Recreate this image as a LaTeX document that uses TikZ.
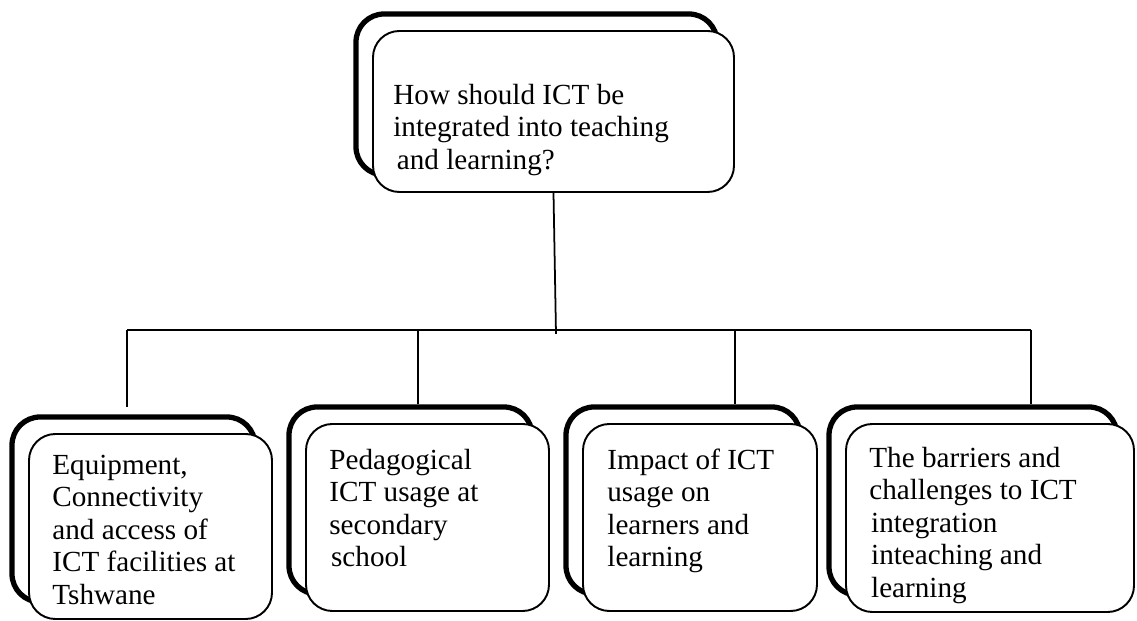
\documentclass[tikz,border=0pt]{standalone}
\usepackage{fontspec}
\setmainfont{Liberation Serif}
\usepackage{tikz}
\usetikzlibrary{positioning}
\tikzset{backbox/.style = {draw, line width = 3pt, rounded corners = 16pt, inner sep = 0}}
\tikzset{frontbox/.style = {draw, fill = white, line width = 1.1pt, rounded corners = 15pt, inner sep = 0}}
\tikzset{boxtext/.style = {anchor = base west, inner sep = 0, font = \fontsize{16.6}{18.5}\selectfont}}
\tikzset{link/.style = {line width = 1pt}}
\newcommand{\boxlines}[1]{\parbox[t]{6cm}{#1}}

\begin{document}
\begin{tikzpicture}
      \useasboundingbox (0, 0) rectangle (22.74, 12.42);

      % question box
      \node [backbox, minimum width = 7.22cm, minimum height = 3.22cm] (qback) at (10.73, 10.53) {};
      \node [frontbox, minimum width = 7.22cm, minimum height = 3.22cm] (q) at (11.07, 10.19) {};
      \node [boxtext] (qtext) at ([shift = {(0.42, -1.48)}] q.north west)
            {\boxlines{How should ICT be\\integrated into teaching\\\hspace*{2pt}and learning?}};

      % the four themes
      \node [backbox, minimum width = 4.86cm, minimum height = 3.70cm] (equipback) at (2.67, 2.23) {};
      \node [frontbox, minimum width = 4.86cm, minimum height = 3.70cm] (equip) at (3.01, 1.89) {};
      \node [boxtext] (equiptext) at ([shift = {(0.48, -0.82)}] equip.north west)
            {\boxlines{Equipment,\\Connectivity\\and access of\\ICT facilities at\\Tshwane}};

      \node [backbox, minimum width = 4.86cm, minimum height = 3.74cm] (pedback) at (8.21, 2.41) {};
      \node [frontbox, minimum width = 4.86cm, minimum height = 3.74cm] (ped) at (8.55, 2.07) {};
      \node [boxtext] (pedtext) at ([shift = {(0.48, -0.92)}] ped.north west)
            {\boxlines{Pedagogical\\ICT usage at\\secondary\\\hspace*{1pt}school}};

      \node [backbox, minimum width = 4.68cm, minimum height = 3.74cm] (impactback) at (13.66, 2.41) {};
      \node [frontbox, minimum width = 4.68cm, minimum height = 3.74cm] (impact) at (14.00, 2.07) {};
      \node [boxtext] (impacttext) at ([shift = {(0.50, -0.92)}] impact.north west)
            {\boxlines{Impact of ICT\\usage on\\learners and\\learning}};

      \node [backbox, minimum width = 5.76cm, minimum height = 3.76cm] (barrierback) at (19.46, 2.40) {};
      \node [frontbox, minimum width = 5.76cm, minimum height = 3.76cm] (barrier) at (19.80, 2.06) {};
      \node [boxtext] (barriertext) at ([shift = {(0.48, -0.88)}] barrier.north west)
            {\boxlines{The barriers and\\challenges to ICT\\\hspace*{1pt}integration\\\hspace*{1pt}inteaching and\\\hspace*{1pt}learning}};

      % connectors
      \coordinate (trunk) at (11.12, 5.74);
      \coordinate (j1) at (2.54, 5.82);
      \coordinate (j2) at (8.36, 5.82);
      \coordinate (j3) at (14.70, 5.82);
      \coordinate (j4) at (20.62, 5.82);
      \coordinate (e1) at (2.54, 4.28);

      \draw [link] (q.south) -- (trunk);
      \draw [link] (j1) -- (j4);
      \draw [link] (j1) -- (e1);
      \draw [link] (j2) -- (j2 |- pedback.north);
      \draw [link] (j3) -- (j3 |- impactback.north);
      \draw [link] (j4) -- (j4 |- barrierback.north);
    \end{tikzpicture}
\end{document}
